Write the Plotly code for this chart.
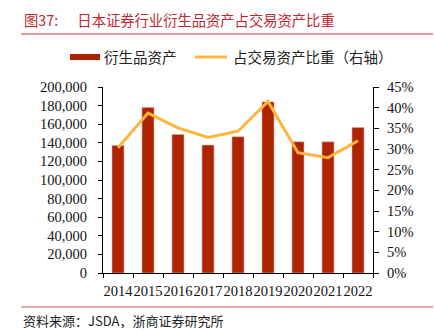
import plotly.graph_objects as go

years = ["2014", "2015", "2016", "2017", "2018", "2019", "2020", "2021", "2022"]
derivative_assets = [137000, 178000, 149000, 137500, 146500, 184000, 141000, 141000, 156500]
share_of_trading = [30.3, 38.7, 35.1, 32.8, 34.3, 41.5, 29.1, 27.9, 32.0]

bar_name = "衍生品资产"
line_name = "占交易资产比重（右轴）"
title_text = "图37:" + "&nbsp;" * 6 + "日本证券行业衍生品资产占交易资产比重"
source_text = "资料来源：JSDA，浙商证券研究所"

BAR_COLOR = "#AE2400"
LINE_COLOR = "#FFB53C"
RED = "#C0272D"
CJK = "Noto Sans CJK SC"
SERIF = "Liberation Serif"

# plot area in pixels: x 103..373, y 87..273
L, R, T, B = 103, 373, 87, 273
W, H = 434, 335


def px(x):
    return (x - L) / (R - L)


def py(y):
    return (B - y) / (B - T)


fig = go.Figure()
fig.add_trace(go.Bar(
    x=years, y=derivative_assets, name=bar_name,
    marker=dict(color=BAR_COLOR, line=dict(color="#E8A6A0", width=0.6)),
    width=0.4, showlegend=False,
))
fig.add_trace(go.Scatter(
    x=years, y=share_of_trading, name=line_name, yaxis="y2",
    mode="lines", line=dict(color=LINE_COLOR, width=3),
    showlegend=False,
))

axis_font = dict(family=SERIF, size=14.5, color="#111111")

fig.update_layout(
    width=W, height=H,
    margin=dict(l=L, r=W - R, t=T, b=H - B, pad=0),
    paper_bgcolor="white", plot_bgcolor="white",
    bargap=0.6,
    xaxis=dict(
        type="category", showgrid=False, showline=True, linecolor="black",
        linewidth=1.2, ticks="outside", ticklen=4, tickcolor="black",
        tickson="boundaries", tickfont=axis_font, tickangle=0, zeroline=False,
        ticklabelstandoff=4,
    ),
    yaxis=dict(
        range=[0, 200000], dtick=20000, tickformat=",d", showgrid=False,
        showline=True, linecolor="black", linewidth=1.2, ticks="outside",
        ticklen=4, tickcolor="black", tickfont=axis_font, zeroline=False,
        ticklabelstandoff=8,
    ),
    yaxis2=dict(
        range=[0, 45], dtick=5, ticksuffix="%", overlaying="y", side="right",
        showgrid=False, showline=True, linecolor="black", linewidth=1.2,
        ticks="outside", ticklen=5, tickcolor="black", tickfont=axis_font,
        zeroline=False, ticklabelstandoff=5,
    ),
)

annotations = [
    dict(text=title_text, x=px(22), y=py(19), xanchor="left", yanchor="middle",
         font=dict(family=CJK, size=14.3, color=RED)),
    dict(text=bar_name, x=px(102), y=py(57), xanchor="left", yanchor="middle",
         font=dict(family=CJK, size=14.5, color="#222222")),
    dict(text=line_name, x=px(231), y=py(57), xanchor="left", yanchor="middle",
         font=dict(family=CJK, size=14.5, color="#222222")),
    dict(text=source_text, x=px(21), y=py(320), xanchor="left", yanchor="middle",
         font=dict(family=CJK, size=13, color="#222222")),
]
for a in annotations:
    a.update(xref="paper", yref="paper", showarrow=False)
fig.update_layout(annotations=annotations)

shapes = [
    # rule under the title and above the source note
    dict(type="line", x0=px(21), x1=px(433), y0=py(34), y1=py(34),
         line=dict(color="#D9363A", width=1.2)),
    dict(type="line", x0=px(21), x1=px(433), y0=py(307), y1=py(307),
         line=dict(color="#E0585A", width=1.2)),
    # legend keys
    dict(type="rect", x0=px(70), x1=px(100), y0=py(60), y1=py(54),
         fillcolor=BAR_COLOR, line=dict(width=0)),
    dict(type="line", x0=px(195), x1=px(227), y0=py(57), y1=py(57),
         line=dict(color=LINE_COLOR, width=3)),
]
for s in shapes:
    s.update(xref="paper", yref="paper")
fig.update_layout(shapes=shapes)

fig.write_html("out.html")
